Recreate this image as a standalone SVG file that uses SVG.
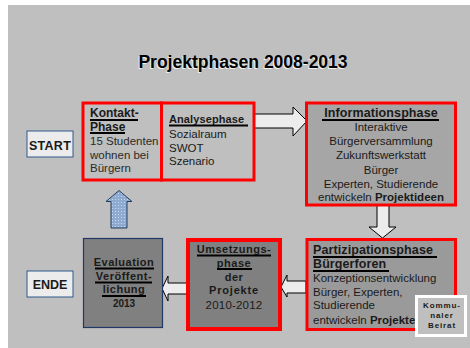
<svg xmlns="http://www.w3.org/2000/svg" width="470" height="348" viewBox="0 0 470 348">
<style>
text{font-family:"Liberation Sans",Arial,sans-serif;fill:#1a1a1a}
.b{font-weight:bold}
.n{font-size:11.5px}
.h{font-size:12px;font-weight:bold}
.ul{stroke:#000;stroke-width:2}
.arr{fill:#ececec;stroke:#000;stroke-width:1}
.red{stroke:#ff0000;stroke-width:3}
.c{text-anchor:middle}
</style>
<defs>
<pattern id="dots" width="3" height="3" patternUnits="userSpaceOnUse">
<rect width="3" height="3" fill="#8eaad0"/>
<rect x="1" y="1" width="1" height="1" fill="#c8d8ec"/>
</pattern>
</defs>
<rect x="0" y="0" width="470" height="348" fill="#ffffff"/>
<rect x="8" y="5" width="462" height="343" fill="#bfbfbf"/>
<g id="title">
<text x="242" y="69" class="b c" font-size="17.5" style="fill:#ffffff" opacity="0.8">Projektphasen 2008-2013</text>
<text x="243" y="68" class="b c" font-size="17.5" style="fill:#000">Projektphasen 2008-2013</text>
</g>
<g id="connectors">
<path class="arr" d="M254,114 H293 V107 L307,121 L293,136 V128 H254 Z"/>
<path class="arr" d="M377,205 H389 V227 H396 L382.5,238 L369,227 H377 Z"/>
<path class="arr" d="M306,281 H287 V275 L281,287 L287,297 V293 H306 Z"/>
<path class="arr" d="M187,283 H168 V276 L162,288.5 L168,301 V294 H187 Z"/>
<path d="M111,228 V201.5 H106 L119,190.5 L132,201.5 H127 V228 Z" fill="url(#dots)" stroke="#243f60" stroke-width="1"/>
</g>
<g id="start">
<rect x="27" y="131" width="46" height="26" fill="#ececec" stroke="#2e5b8a" stroke-width="1"/>
<text x="50" y="149.5" class="b c" font-size="12.5" letter-spacing="0.3">START</text>
</g>
<g id="kontakt">
<rect x="83" y="103" width="78.5" height="77" fill="#bfbfbf" class="red"/>
<text x="90" y="117.3" class="h">Kontakt-</text>
<line x1="90" y1="120" x2="138" y2="120" class="ul"/>
<text x="90" y="130.5" class="h">Phase</text>
<line x1="90" y1="133" x2="125" y2="133" class="ul"/>
<text x="90" y="145" class="n" style="fill:#2a2a2a">15 Studenten</text>
<text x="90" y="158.5" class="n" style="fill:#2a2a2a">wohnen bei</text>
<text x="90" y="172" class="n" style="fill:#2a2a2a">Bürgern</text>
</g>
<g id="analyse">
<rect x="161.5" y="103" width="92.5" height="77" fill="#bfbfbf" class="red"/>
<text x="169" y="123" class="b" font-size="11" letter-spacing="0.1">Analysephase</text>
<line x1="169" y1="125.5" x2="248" y2="125.5" class="ul"/>
<text x="169" y="138.3" class="n">Sozialraum</text>
<text x="169" y="151.5" class="n">SWOT</text>
<text x="169" y="165" class="n">Szenario</text>
</g>
<g id="information">
<rect x="306.5" y="103" width="149" height="102" fill="#a6a6a6" class="red"/>
<text x="381" y="117.3" class="b c" font-size="12.5" letter-spacing="0.1">Informationsphase</text>
<line x1="322" y1="120" x2="439" y2="120" class="ul"/>
<text x="381" y="131" class="n c">Interaktive</text>
<text x="381" y="145" class="n c">Bürgerversammlung</text>
<text x="381" y="159" class="n c">Zukunftswerkstatt</text>
<text x="381" y="174" class="n c">Bürger</text>
<text x="381" y="187.5" class="n c">Experten, Studierende</text>
<text x="381" y="201" class="n c">entwickeln <tspan class="b">Projektideen</tspan></text>
</g>
<g id="partizipation">
<rect x="307" y="239.5" width="148.5" height="90" fill="#9a9a9a" class="red"/>
<text x="313" y="254.3" class="b" font-size="12.5" letter-spacing="0.1">Partizipationsphase</text>
<line x1="313" y1="257" x2="437" y2="257" class="ul"/>
<text x="313" y="268.3" class="b" font-size="12.5" letter-spacing="0.1">Bürgerforen</text>
<line x1="313" y1="271" x2="389" y2="271" class="ul"/>
<text x="313" y="281.7" class="n">Konzeptionsentwicklung</text>
<text x="313" y="295.7" class="n">Bürger, Experten,</text>
<text x="313" y="309" class="n">Studierende</text>
<text x="313" y="324" class="n">entwickeln <tspan class="b">Projekte</tspan></text>
</g>
<g id="beirat">
<rect x="416.5" y="296.5" width="49" height="39" fill="#bfbfbf" stroke="#ffffff" stroke-width="3"/>
<text x="442" y="308.3" class="b c" font-size="8" letter-spacing="0.9">Kommu-</text>
<text x="442" y="318.3" class="b c" font-size="8" letter-spacing="0.9">naler</text>
<text x="442" y="328.3" class="b c" font-size="8" letter-spacing="0.9">Beirat</text>
</g>
<g id="umsetzung">
<rect x="188" y="240" width="92" height="89" fill="#808080" stroke="#ff0000" stroke-width="4"/>
<text x="234" y="253" class="b c" font-size="11" letter-spacing="0.5">Umsetzungs-</text>
<line x1="197" y1="255.5" x2="271" y2="255.5" class="ul"/>
<text x="234" y="266.5" class="b c" font-size="11" letter-spacing="0.5">phase</text>
<line x1="217" y1="269" x2="252" y2="269" class="ul"/>
<text x="234" y="280.5" class="b c" font-size="11" letter-spacing="0.5">der</text>
<text x="234" y="294" class="b c" font-size="11" letter-spacing="0.8">Projekte</text>
<text x="234" y="309" class="c" font-size="11.5" letter-spacing="0.2">2010-2012</text>
</g>
<g id="evaluation">
<rect x="83.5" y="238.5" width="79" height="89" fill="#808080" stroke="#1f3864" stroke-width="1.2"/>
<text x="124" y="266" class="b c" font-size="11" letter-spacing="0.5">Evaluation</text>
<line x1="95" y1="268.5" x2="154" y2="268.5" class="ul"/>
<text x="124" y="280" class="b c" font-size="11" letter-spacing="0.5">Veröffent-</text>
<line x1="95" y1="282.5" x2="152" y2="282.5" class="ul"/>
<text x="124" y="293.3" class="b c" font-size="11" letter-spacing="0.5">lichung</text>
<line x1="102" y1="296" x2="146" y2="296" class="ul"/>
<text x="124" y="307.3" class="b c" font-size="10">2013</text>
</g>
<g id="ende">
<rect x="27" y="271" width="46" height="26" fill="#ececec" stroke="#2e5b8a" stroke-width="1"/>
<text x="50" y="289" class="b c" font-size="12.5">ENDE</text>
</g>
</svg>
